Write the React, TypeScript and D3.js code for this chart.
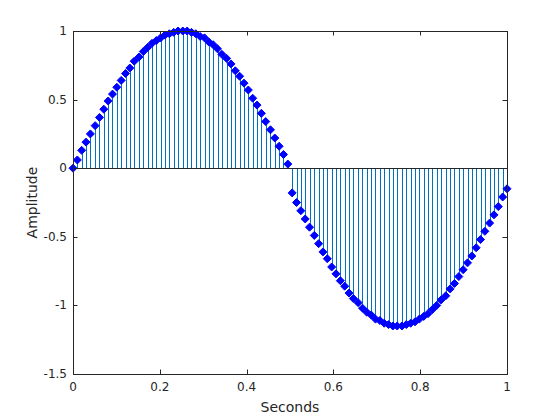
import React from "react";
import * as d3 from "d3";

const times: number[] = [
  0.000, 0.010, 0.020, 0.030, 0.040, 0.051, 0.061, 0.071, 0.081, 0.091,
  0.101, 0.111, 0.121, 0.131, 0.141, 0.152, 0.162, 0.172, 0.182, 0.192,
  0.202, 0.212, 0.222, 0.232, 0.242, 0.253, 0.263, 0.273, 0.283, 0.293,
  0.303, 0.313, 0.323, 0.333, 0.343, 0.354, 0.364, 0.374, 0.384, 0.394,
  0.404, 0.414, 0.424, 0.434, 0.444, 0.455, 0.465, 0.475, 0.485, 0.495,
  0.505, 0.515, 0.525, 0.535, 0.545, 0.556, 0.566, 0.576, 0.586, 0.596,
  0.606, 0.616, 0.626, 0.636, 0.646, 0.657, 0.667, 0.677, 0.687, 0.697,
  0.707, 0.717, 0.727, 0.737, 0.747, 0.758, 0.768, 0.778, 0.788, 0.798,
  0.808, 0.818, 0.828, 0.838, 0.848, 0.859, 0.869, 0.879, 0.889, 0.899,
  0.909, 0.919, 0.929, 0.939, 0.949, 0.960, 0.970, 0.980, 0.990, 1.000,
];

const amplitudes: number[] = [
  0.00, 0.06, 0.13, 0.19, 0.25, 0.31, 0.37, 0.43, 0.49, 0.54,
  0.59, 0.64, 0.69, 0.73, 0.78, 0.81, 0.85, 0.88, 0.91, 0.93,
  0.95, 0.97, 0.98, 0.99, 1.00, 1.00, 1.00, 0.99, 0.98, 0.96,
  0.95, 0.92, 0.90, 0.87, 0.83, 0.80, 0.76, 0.71, 0.67, 0.62,
  0.57, 0.51, 0.46, 0.40, 0.34, 0.28, 0.22, 0.16, 0.10, 0.03,
  -0.18, -0.25, -0.31, -0.37, -0.43, -0.49, -0.55, -0.61, -0.66, -0.72,
  -0.77, -0.82, -0.86, -0.91, -0.95, -0.98, -1.02, -1.05, -1.07, -1.10,
  -1.11, -1.13, -1.14, -1.15, -1.15, -1.15, -1.14, -1.13, -1.12, -1.10,
  -1.08, -1.06, -1.03, -1.00, -0.96, -0.93, -0.88, -0.84, -0.79, -0.74,
  -0.69, -0.64, -0.58, -0.52, -0.46, -0.40, -0.34, -0.28, -0.21, -0.15,
];

const xTicks: number[] = [0, 0.2, 0.4, 0.6, 0.8, 1];
const yTicks: number[] = [-1.5, -1, -0.5, 0, 0.5, 1];
const xLabel = "Seconds";
const yLabel = "Amplitude";

const W = 560;
const H = 420;
const left = 73;
const right = 507;
const top = 31;
const bottom = 374;
const axisColor = "#262626";
const font = "DejaVu Sans, sans-serif";

export default function App() {
  const x = d3.scaleLinear().domain([0, 1]).range([left, right]);
  const y = d3.scaleLinear().domain([-1.5, 1]).range([bottom, top]);
  const tickLen = 4.5;
  const d = 4;
  const diamond = (cx: number, cy: number) =>
    `M${cx},${cy - d}L${cx + d},${cy}L${cx},${cy + d}L${cx - d},${cy}Z`;
  const fmt = (v: number) => String(v);

  return (
    <svg
      width={W}
      height={H}
      style={{ position: "absolute", left: 0, top: 0, background: "#fff" }}
    >
      <rect x={0} y={0} width={W} height={H} fill="#fff" />
      {/* stems */}
      <g stroke="#0072BD" strokeWidth={1}>
        {times.map((t, i) => (
          <line
            key={i}
            x1={Math.round(x(t)) + 0.5}
            x2={Math.round(x(t)) + 0.5}
            y1={y(0)}
            y2={y(amplitudes[i])}
          />
        ))}
      </g>
      {/* baseline */}
      <line
        x1={x(0)}
        x2={x(1)}
        y1={Math.round(y(0)) + 0.5}
        y2={Math.round(y(0)) + 0.5}
        stroke={axisColor}
        strokeWidth={1}
      />
      {/* markers */}
      <g fill="#0000FF" stroke="#0000FF" strokeWidth={1}>
        {times.map((t, i) => (
          <path key={i} d={diamond(x(t), y(amplitudes[i]))} />
        ))}
      </g>
      {/* box */}
      <rect
        x={left + 0.5}
        y={top + 0.5}
        width={right - left}
        height={bottom - top}
        fill="none"
        stroke={axisColor}
        strokeWidth={1}
      />
      {/* ticks */}
      <g stroke={axisColor} strokeWidth={1}>
        {xTicks.map((v) => {
          const px = Math.round(x(v)) + 0.5;
          return (
            <g key={v}>
              <line x1={px} x2={px} y1={bottom} y2={bottom - tickLen} />
              <line x1={px} x2={px} y1={top} y2={top + tickLen} />
            </g>
          );
        })}
        {yTicks.map((v) => {
          const py = Math.round(y(v)) + 0.5;
          return (
            <g key={v}>
              <line x1={left} x2={left + tickLen} y1={py} y2={py} />
              <line x1={right} x2={right - tickLen} y1={py} y2={py} />
            </g>
          );
        })}
      </g>
      <g fill={axisColor} fontFamily={font} fontSize={12}>
        {xTicks.map((v) => (
          <text key={v} x={x(v)} y={bottom + 17} textAnchor="middle">
            {fmt(v)}
          </text>
        ))}
        {yTicks.map((v) => (
          <text key={v} x={left - 6} y={y(v) + 4} textAnchor="end">
            {fmt(v)}
          </text>
        ))}
      </g>
      <text
        x={(left + right) / 2}
        y={412}
        textAnchor="middle"
        fontFamily={font}
        fontSize={14}
        fill={axisColor}
      >
        {xLabel}
      </text>
      <text
        transform={`translate(37,${(top + bottom) / 2}) rotate(-90)`}
        textAnchor="middle"
        fontFamily={font}
        fontSize={14}
        fill={axisColor}
      >
        {yLabel}
      </text>
    </svg>
  );
}
